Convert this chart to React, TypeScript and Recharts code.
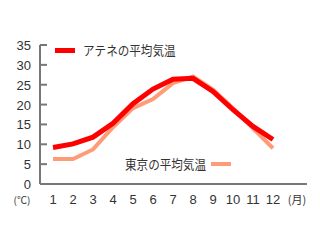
import { LineChart, Line, XAxis, YAxis, Label } from "recharts";

const MONTHS = [1, 2, 3, 4, 5, 6, 7, 8, 9, 10, 11, 12];
const ATHENS = [9.2, 10.1, 11.8, 15.3, 20.2, 23.9, 26.4, 26.6, 23.3, 18.7, 14.5, 11.2];
const TOKYO = [6.3, 6.3, 8.7, 14.3, 19.1, 21.4, 25.4, 27.1, 23.8, 19.1, 14.0, 9.0];
const Y_TICKS = [0, 5, 10, 15, 20, 25, 30, 35];

const ATHENS_NAME = "アテネの平均気温";
const TOKYO_NAME = "東京の平均気温";
const ATHENS_COLOR = "#ff0000";
const TOKYO_COLOR = "#ff9c78";

const data = MONTHS.map((m, i) => ({ month: m, athens: ATHENS[i], tokyo: TOKYO[i] }));

const FONT = "'Liberation Sans', Arial, sans-serif";
const JP_FONT = "'Noto Sans CJK JP', sans-serif";

function YTick(props: any) {
  const { x, y, payload } = props;
  return (
    <g>
      <line x1={x} x2={x + 7} y1={y} y2={y} stroke="#777" strokeWidth={2} />
      <text x={x - 9} y={y + 5} textAnchor="end" fontSize={13} fontFamily={FONT} fill="#333">
        {payload.value}
      </text>
    </g>
  );
}

function XTick(props: any) {
  const { x, y, payload } = props;
  return (
    <text x={x} y={y + 20} textAnchor="middle" fontSize={13} fontFamily={FONT} fill="#333">
      {payload.value}
    </text>
  );
}

// legends sit at fixed spots inside the plot, so they are laid over the chart
function LegendBoxes() {
  const txt = {
    position: "absolute" as const,
    lineHeight: "18px",
    whiteSpace: "nowrap" as const,
    transform: "scaleX(0.89)",
    transformOrigin: "left center",
  };
  return (
    <div style={{ position: "absolute", left: 0, top: 0, width: 320, height: 240, fontFamily: JP_FONT, fontSize: 13, color: "#333", pointerEvents: "none" }}>
      <div style={{ position: "absolute", left: 55, top: 48, width: 20, height: 5, background: ATHENS_COLOR }} />
      <div style={{ ...txt, left: 83, top: 41 }}>{ATHENS_NAME}</div>
      <div style={{ ...txt, left: 125, top: 155 }}>{TOKYO_NAME}</div>
      <div style={{ position: "absolute", left: 211, top: 162, width: 20, height: 4, background: TOKYO_COLOR }} />
    </div>
  );
}

export default function App() {
  return (
    <div style={{ position: "absolute", left: 0, top: 0, width: 320, height: 240, background: "#fff" }}>
      <LineChart width={320} height={240} data={data} margin={{ top: 45, right: 13, bottom: 0, left: 0 }}>
        <XAxis
          dataKey="month"
          type="number"
          domain={[0.35, 13.7]}
          ticks={MONTHS}
          interval={0}
          height={56}
          tickLine={false}
          tickSize={0}
          tickMargin={0}
          axisLine={{ stroke: "#777", strokeWidth: 2 }}
          tick={<XTick />}
        >
          <Label
            content={(p: any) => {
              const vb = p.viewBox;
              return (
                <text x={vb.x + vb.width - 10} y={vb.y + 20} textAnchor="middle" fontSize={11} fontFamily={JP_FONT} fill="#333">
                  (月)
                </text>
              );
            }}
          />
        </XAxis>
        <YAxis
          type="number"
          domain={[0, 35]}
          ticks={Y_TICKS}
          width={40}
          interval={0}
          tickLine={false}
          tickSize={0}
          tickMargin={0}
          axisLine={{ stroke: "#777", strokeWidth: 2 }}
          tick={<YTick />}
        >
          <Label
            content={(p: any) => {
              const vb = p.viewBox;
              return (
                <text x={vb.x + 22} y={vb.y + vb.height + 20} textAnchor="middle" fontSize={10} fontFamily={JP_FONT} fill="#333">
                  (℃)
                </text>
              );
            }}
          />
        </YAxis>
        <Line
          type="linear"
          dataKey="tokyo"
          name={TOKYO_NAME}
          stroke={TOKYO_COLOR}
          strokeWidth={4}
          dot={false}
          isAnimationActive={false}
        />
        <Line
          type="linear"
          dataKey="athens"
          name={ATHENS_NAME}
          stroke={ATHENS_COLOR}
          strokeWidth={5}
          dot={false}
          isAnimationActive={false}
        />
      </LineChart>
      <LegendBoxes />
    </div>
  );
}
